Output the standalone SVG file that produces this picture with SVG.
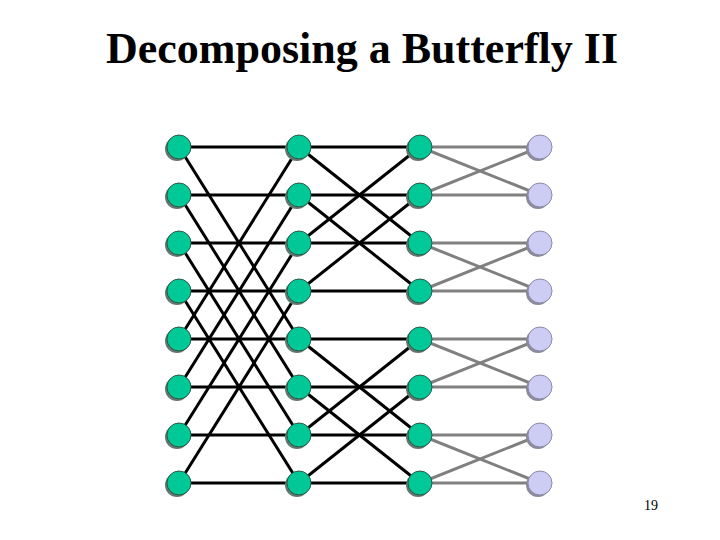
<svg xmlns="http://www.w3.org/2000/svg" width="720" height="540" viewBox="0 0 720 540">
<style>
.t{font-family:"Liberation Serif","Times New Roman",serif;font-weight:bold;font-size:44px;fill:#000}
.pg{font-family:"Liberation Serif","Times New Roman",serif;font-size:14px;fill:#000}
.b{stroke:#000;stroke-width:3;fill:none}
.g{stroke:#808080;stroke-width:3;fill:none}
.sh{fill:#66766e}
.shl{fill:#8a8a99}
.n{fill:#00c896;stroke:#2a5a48;stroke-width:1}
.l{fill:#ccccf5;stroke:#8a8aa8;stroke-width:1}
</style>
<rect width="720" height="540" fill="#fff"/>
<text class="t" x="362" y="63" text-anchor="middle">Decomposing a Butterfly II</text>
<g id="connectors">
<g class="b">
<line x1="179" y1="147" x2="299" y2="147"/><line x1="179" y1="195" x2="299" y2="195"/><line x1="179" y1="243" x2="299" y2="243"/><line x1="179" y1="291" x2="299" y2="291"/><line x1="179" y1="339" x2="299" y2="339"/><line x1="179" y1="387" x2="299" y2="387"/><line x1="179" y1="435" x2="299" y2="435"/><line x1="179" y1="483" x2="299" y2="483"/>
<line x1="179" y1="147" x2="299" y2="339"/><line x1="179" y1="195" x2="299" y2="387"/><line x1="179" y1="243" x2="299" y2="435"/><line x1="179" y1="291" x2="299" y2="483"/>
<line x1="179" y1="339" x2="299" y2="147"/><line x1="179" y1="387" x2="299" y2="195"/><line x1="179" y1="435" x2="299" y2="243"/><line x1="179" y1="483" x2="299" y2="291"/>
<line x1="299" y1="147" x2="420" y2="147"/><line x1="299" y1="195" x2="420" y2="195"/><line x1="299" y1="243" x2="420" y2="243"/><line x1="299" y1="291" x2="420" y2="291"/><line x1="299" y1="339" x2="420" y2="339"/><line x1="299" y1="387" x2="420" y2="387"/><line x1="299" y1="435" x2="420" y2="435"/><line x1="299" y1="483" x2="420" y2="483"/>
<line x1="299" y1="147" x2="420" y2="243"/><line x1="299" y1="195" x2="420" y2="291"/><line x1="299" y1="243" x2="420" y2="147"/><line x1="299" y1="291" x2="420" y2="195"/>
<line x1="299" y1="339" x2="420" y2="435"/><line x1="299" y1="387" x2="420" y2="483"/><line x1="299" y1="435" x2="420" y2="339"/><line x1="299" y1="483" x2="420" y2="387"/>
</g>
<g class="g">
<line x1="420" y1="147" x2="540" y2="147"/><line x1="420" y1="195" x2="540" y2="195"/><line x1="420" y1="243" x2="540" y2="243"/><line x1="420" y1="291" x2="540" y2="291"/><line x1="420" y1="339" x2="540" y2="339"/><line x1="420" y1="387" x2="540" y2="387"/><line x1="420" y1="435" x2="540" y2="435"/><line x1="420" y1="483" x2="540" y2="483"/>
<line x1="420" y1="147" x2="540" y2="195"/><line x1="420" y1="195" x2="540" y2="147"/><line x1="420" y1="243" x2="540" y2="291"/><line x1="420" y1="291" x2="540" y2="243"/>
<line x1="420" y1="339" x2="540" y2="387"/><line x1="420" y1="387" x2="540" y2="339"/><line x1="420" y1="435" x2="540" y2="483"/><line x1="420" y1="483" x2="540" y2="435"/>
</g>
</g>
<defs>
<g id="gn"><circle class="sh" cx="-2" cy="2" r="12"/><circle class="n" cx="0" cy="0" r="12"/></g>
<g id="ln"><circle class="shl" cx="-2" cy="2" r="12"/><circle class="l" cx="0" cy="0" r="12"/></g>
</defs>
<g id="c1">
<g id="n1-0"><use href="#gn" x="179" y="147"/></g><g id="n1-1"><use href="#gn" x="179" y="195"/></g><g id="n1-2"><use href="#gn" x="179" y="243"/></g><g id="n1-3"><use href="#gn" x="179" y="291"/></g><g id="n1-4"><use href="#gn" x="179" y="339"/></g><g id="n1-5"><use href="#gn" x="179" y="387"/></g><g id="n1-6"><use href="#gn" x="179" y="435"/></g><g id="n1-7"><use href="#gn" x="179" y="483"/></g>
</g>
<g id="c2">
<g id="n2-0"><use href="#gn" x="299" y="147"/></g><g id="n2-1"><use href="#gn" x="299" y="195"/></g><g id="n2-2"><use href="#gn" x="299" y="243"/></g><g id="n2-3"><use href="#gn" x="299" y="291"/></g><g id="n2-4"><use href="#gn" x="299" y="339"/></g><g id="n2-5"><use href="#gn" x="299" y="387"/></g><g id="n2-6"><use href="#gn" x="299" y="435"/></g><g id="n2-7"><use href="#gn" x="299" y="483"/></g>
</g>
<g id="c3">
<g id="n3-0"><use href="#gn" x="420" y="147"/></g><g id="n3-1"><use href="#gn" x="420" y="195"/></g><g id="n3-2"><use href="#gn" x="420" y="243"/></g><g id="n3-3"><use href="#gn" x="420" y="291"/></g><g id="n3-4"><use href="#gn" x="420" y="339"/></g><g id="n3-5"><use href="#gn" x="420" y="387"/></g><g id="n3-6"><use href="#gn" x="420" y="435"/></g><g id="n3-7"><use href="#gn" x="420" y="483"/></g>
</g>
<g id="c4">
<g id="n4-0"><use href="#ln" x="540" y="147"/></g><g id="n4-1"><use href="#ln" x="540" y="195"/></g><g id="n4-2"><use href="#ln" x="540" y="243"/></g><g id="n4-3"><use href="#ln" x="540" y="291"/></g><g id="n4-4"><use href="#ln" x="540" y="339"/></g><g id="n4-5"><use href="#ln" x="540" y="387"/></g><g id="n4-6"><use href="#ln" x="540" y="435"/></g><g id="n4-7"><use href="#ln" x="540" y="483"/></g>
</g>
<text class="pg" x="651" y="510" text-anchor="middle">19</text>
</svg>
